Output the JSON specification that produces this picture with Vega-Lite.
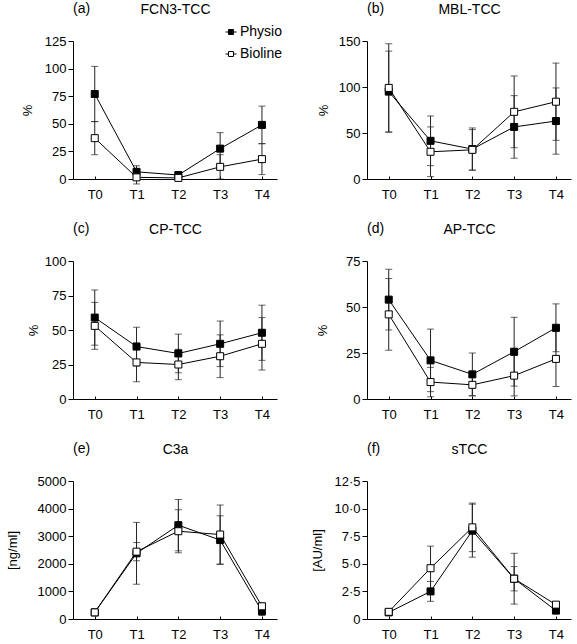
{
  "$schema": "https://vega.github.io/schema/vega-lite/v6.json",
  "padding": {"left": 6, "top": 2, "right": 2, "bottom": 2},
  "background": "white",
  "datasets": {
    "a": [
      {"time": 0, "group": "Physio", "mean": 77, "sd": 25},
      {"time": 1, "group": "Physio", "mean": 6.5, "sd": 5.5},
      {"time": 2, "group": "Physio", "mean": 3.6, "sd": 2},
      {"time": 3, "group": "Physio", "mean": 27.5, "sd": 14.5},
      {"time": 4, "group": "Physio", "mean": 49, "sd": 17},
      {"time": 0, "group": "Bioline", "mean": 37, "sd": 15},
      {"time": 1, "group": "Bioline", "mean": 1.5, "sd": 6},
      {"time": 2, "group": "Bioline", "mean": 1, "sd": 2},
      {"time": 3, "group": "Bioline", "mean": 11, "sd": 11},
      {"time": 4, "group": "Bioline", "mean": 18, "sd": 14}
    ],
    "b": [
      {"time": 0, "group": "Physio", "mean": 95, "sd": 44},
      {"time": 1, "group": "Physio", "mean": 41.5, "sd": 27},
      {"time": 2, "group": "Physio", "mean": 32.5, "sd": 23},
      {"time": 3, "group": "Physio", "mean": 56.6, "sd": 34},
      {"time": 4, "group": "Physio", "mean": 63, "sd": 36},
      {"time": 0, "group": "Bioline", "mean": 99, "sd": 48},
      {"time": 1, "group": "Bioline", "mean": 29.6, "sd": 27},
      {"time": 2, "group": "Bioline", "mean": 31.7, "sd": 22},
      {"time": 3, "group": "Bioline", "mean": 73, "sd": 39},
      {"time": 4, "group": "Bioline", "mean": 84, "sd": 42}
    ],
    "c": [
      {"time": 0, "group": "Physio", "mean": 59, "sd": 20},
      {"time": 1, "group": "Physio", "mean": 38, "sd": 14},
      {"time": 2, "group": "Physio", "mean": 33, "sd": 14},
      {"time": 3, "group": "Physio", "mean": 40, "sd": 16.5},
      {"time": 4, "group": "Physio", "mean": 48, "sd": 20},
      {"time": 0, "group": "Bioline", "mean": 53, "sd": 17},
      {"time": 1, "group": "Bioline", "mean": 26.5, "sd": 14},
      {"time": 2, "group": "Bioline", "mean": 25, "sd": 11},
      {"time": 3, "group": "Bioline", "mean": 31, "sd": 15.5},
      {"time": 4, "group": "Bioline", "mean": 40, "sd": 19}
    ],
    "d": [
      {"time": 0, "group": "Physio", "mean": 54, "sd": 16.5},
      {"time": 1, "group": "Physio", "mean": 21, "sd": 17},
      {"time": 2, "group": "Physio", "mean": 13.4, "sd": 11.6},
      {"time": 3, "group": "Physio", "mean": 25.7, "sd": 18.7},
      {"time": 4, "group": "Physio", "mean": 38.7, "sd": 13},
      {"time": 0, "group": "Bioline", "mean": 46, "sd": 19.5},
      {"time": 1, "group": "Bioline", "mean": 9.2, "sd": 8},
      {"time": 2, "group": "Bioline", "mean": 7.7, "sd": 6},
      {"time": 3, "group": "Bioline", "mean": 12.7, "sd": 11},
      {"time": 4, "group": "Bioline", "mean": 21.8, "sd": 15}
    ],
    "e": [
      {"time": 0, "group": "Physio", "mean": 240, "sd": 40},
      {"time": 1, "group": "Physio", "mean": 2380, "sd": 1120},
      {"time": 2, "group": "Physio", "mean": 3400, "sd": 930},
      {"time": 3, "group": "Physio", "mean": 2860, "sd": 880},
      {"time": 4, "group": "Physio", "mean": 280, "sd": 150},
      {"time": 0, "group": "Bioline", "mean": 240, "sd": 40},
      {"time": 1, "group": "Bioline", "mean": 2440, "sd": 330},
      {"time": 2, "group": "Bioline", "mean": 3180, "sd": 780},
      {"time": 3, "group": "Bioline", "mean": 3060, "sd": 1070},
      {"time": 4, "group": "Bioline", "mean": 460, "sd": 120}
    ],
    "f": [
      {"time": 0, "group": "Physio", "mean": 0.6, "sd": 0.1},
      {"time": 1, "group": "Physio", "mean": 2.5, "sd": 0.9},
      {"time": 2, "group": "Physio", "mean": 8.0, "sd": 2.4},
      {"time": 3, "group": "Physio", "mean": 3.65, "sd": 2.3},
      {"time": 4, "group": "Physio", "mean": 0.76, "sd": 0.2},
      {"time": 0, "group": "Bioline", "mean": 0.65, "sd": 0.1},
      {"time": 1, "group": "Bioline", "mean": 4.6, "sd": 2.0},
      {"time": 2, "group": "Bioline", "mean": 8.3, "sd": 2.2},
      {"time": 3, "group": "Bioline", "mean": 3.65, "sd": 1.1},
      {"time": 4, "group": "Bioline", "mean": 1.3, "sd": 0.2}
    ]
  },
  "concat": [
    {
      "title": {"text": "(a)"},
      "width": 204, "height": 138,
      "data": {"name": "a"},
      "encoding": {
        "x": {"field": "time", "type": "quantitative", "scale": {"domain": [-0.52, 4.36], "nice": false, "zero": false}, "axis": {"values": [0, 1, 2, 3, 4], "labelExpr": "'T' + datum.value", "title": null}},
        "y": {"field": "mean", "type": "quantitative", "scale": {"domain": [0, 125], "nice": false}, "axis": {"values": [0, 25, 50, 75, 100, 125], "title": "%", "titlePadding": 10}}
      },
      "layer": [
        {"mark": {"type": "errorbar", "ticks": {"size": 7}, "color": "#222", "thickness": 1}, "encoding": {"yError": {"field": "sd"}}},
        {"mark": {"type": "line", "color": "black", "strokeWidth": 1}, "encoding": {"x": {"field": "time", "type": "quantitative", "axis": null}, "detail": {"field": "group"}}},
        {"mark": {"type": "point", "shape": "square", "filled": true, "stroke": "black", "strokeWidth": 1, "size": 49, "opacity": 1},
         "encoding": {
           "x": {"field": "time", "type": "quantitative", "axis": {"orient": "top", "title": "FCN3-TCC", "labels": false, "ticks": false, "domain": false}},
           "fill": {"field": "group", "type": "nominal", "scale": {"domain": ["Physio", "Bioline"], "range": ["black", "white"]}, "legend": {"legendX": 151, "legendY": -16}}
         }}
      ],
      "resolve": {"axis": {"x": "independent"}}
    },
    {
      "title": {"text": "(b)"},
      "width": 204, "height": 138,
      "data": {"name": "b"},
      "encoding": {
        "x": {"field": "time", "type": "quantitative", "scale": {"domain": [-0.52, 4.36], "nice": false, "zero": false}, "axis": {"values": [0, 1, 2, 3, 4], "labelExpr": "'T' + datum.value", "title": null}},
        "y": {"field": "mean", "type": "quantitative", "scale": {"domain": [0, 150], "nice": false}, "axis": {"values": [0, 50, 100, 150], "title": "%", "titlePadding": 8}}
      },
      "layer": [
        {"mark": {"type": "errorbar", "ticks": {"size": 7}, "color": "#222", "thickness": 1}, "encoding": {"yError": {"field": "sd"}}},
        {"mark": {"type": "line", "color": "black", "strokeWidth": 1}, "encoding": {"x": {"field": "time", "type": "quantitative", "axis": null}, "detail": {"field": "group"}}},
        {"mark": {"type": "point", "shape": "square", "filled": true, "stroke": "black", "strokeWidth": 1, "size": 49, "opacity": 1},
         "encoding": {
           "x": {"field": "time", "type": "quantitative", "axis": {"orient": "top", "title": "MBL-TCC", "labels": false, "ticks": false, "domain": false}},
           "fill": {"field": "group", "type": "nominal", "scale": {"domain": ["Physio", "Bioline"], "range": ["black", "white"]}, "legend": {"legendX": 150, "legendY": -16}}
         }}
      ],
      "resolve": {"axis": {"x": "independent"}}
    },
    {
      "title": {"text": "(c)"},
      "width": 204, "height": 138,
      "data": {"name": "c"},
      "encoding": {
        "x": {"field": "time", "type": "quantitative", "scale": {"domain": [-0.52, 4.36], "nice": false, "zero": false}, "axis": {"values": [0, 1, 2, 3, 4], "labelExpr": "'T' + datum.value", "title": null}},
        "y": {"field": "mean", "type": "quantitative", "scale": {"domain": [0, 100], "nice": false}, "axis": {"values": [0, 25, 50, 75, 100], "title": "%", "titlePadding": 4}}
      },
      "layer": [
        {"mark": {"type": "errorbar", "ticks": {"size": 7}, "color": "#222", "thickness": 1}, "encoding": {"yError": {"field": "sd"}}},
        {"mark": {"type": "line", "color": "black", "strokeWidth": 1}, "encoding": {"x": {"field": "time", "type": "quantitative", "axis": null}, "detail": {"field": "group"}}},
        {"mark": {"type": "point", "shape": "square", "filled": true, "stroke": "black", "strokeWidth": 1, "size": 49, "opacity": 1},
         "encoding": {
           "x": {"field": "time", "type": "quantitative", "axis": {"orient": "top", "title": "CP-TCC", "labels": false, "ticks": false, "domain": false}},
           "fill": {"field": "group", "type": "nominal", "scale": {"domain": ["Physio", "Bioline"], "range": ["black", "white"]}, "legend": {"legendX": 151, "legendY": -6}}
         }}
      ],
      "resolve": {"axis": {"x": "independent"}}
    },
    {
      "title": {"text": "(d)"},
      "width": 204, "height": 138,
      "data": {"name": "d"},
      "encoding": {
        "x": {"field": "time", "type": "quantitative", "scale": {"domain": [-0.52, 4.36], "nice": false, "zero": false}, "axis": {"values": [0, 1, 2, 3, 4], "labelExpr": "'T' + datum.value", "title": null}},
        "y": {"field": "mean", "type": "quantitative", "scale": {"domain": [0, 75], "nice": false}, "axis": {"values": [0, 25, 50, 75], "title": "%", "titlePadding": 16}}
      },
      "layer": [
        {"mark": {"type": "errorbar", "ticks": {"size": 7}, "color": "#222", "thickness": 1}, "encoding": {"yError": {"field": "sd"}}},
        {"mark": {"type": "line", "color": "black", "strokeWidth": 1}, "encoding": {"x": {"field": "time", "type": "quantitative", "axis": null}, "detail": {"field": "group"}}},
        {"mark": {"type": "point", "shape": "square", "filled": true, "stroke": "black", "strokeWidth": 1, "size": 49, "opacity": 1},
         "encoding": {
           "x": {"field": "time", "type": "quantitative", "axis": {"orient": "top", "title": "AP-TCC", "labels": false, "ticks": false, "domain": false}},
           "fill": {"field": "group", "type": "nominal", "scale": {"domain": ["Physio", "Bioline"], "range": ["black", "white"]}, "legend": {"legendX": 150, "legendY": -6}}
         }}
      ],
      "resolve": {"axis": {"x": "independent"}}
    },
    {
      "title": {"text": "(e)"},
      "width": 204, "height": 138,
      "data": {"name": "e"},
      "encoding": {
        "x": {"field": "time", "type": "quantitative", "scale": {"domain": [-0.52, 4.36], "nice": false, "zero": false}, "axis": {"values": [0, 1, 2, 3, 4], "labelExpr": "'T' + datum.value", "title": null}},
        "y": {"field": "mean", "type": "quantitative", "scale": {"domain": [0, 5000], "nice": false}, "axis": {"values": [0, 1000, 2000, 3000, 4000, 5000], "format": "d", "title": "[ng/ml]", "titlePadding": 18}}
      },
      "layer": [
        {"mark": {"type": "errorbar", "ticks": {"size": 7}, "color": "#222", "thickness": 1}, "encoding": {"yError": {"field": "sd"}}},
        {"mark": {"type": "line", "color": "black", "strokeWidth": 1}, "encoding": {"x": {"field": "time", "type": "quantitative", "axis": null}, "detail": {"field": "group"}}},
        {"mark": {"type": "point", "shape": "square", "filled": true, "stroke": "black", "strokeWidth": 1, "size": 49, "opacity": 1},
         "encoding": {
           "x": {"field": "time", "type": "quantitative", "axis": {"orient": "top", "title": "C3a", "labels": false, "ticks": false, "domain": false}},
           "fill": {"field": "group", "type": "nominal", "scale": {"domain": ["Physio", "Bioline"], "range": ["black", "white"]}, "legend": {"legendX": 151, "legendY": -15}}
         }}
      ],
      "resolve": {"axis": {"x": "independent"}}
    },
    {
      "title": {"text": "(f)"},
      "width": 204, "height": 138,
      "data": {"name": "f"},
      "encoding": {
        "x": {"field": "time", "type": "quantitative", "scale": {"domain": [-0.52, 4.36], "nice": false, "zero": false}, "axis": {"values": [0, 1, 2, 3, 4], "labelExpr": "'T' + datum.value", "title": null}},
        "y": {"field": "mean", "type": "quantitative", "scale": {"domain": [0, 12.5], "nice": false}, "axis": {"values": [0, 2.5, 5, 7.5, 10, 12.5], "labelExpr": "datum.value == 0 ? '0' : replace(format(datum.value, '.1f'), '.', '·')", "title": "[AU/ml]", "titlePadding": 9}}
      },
      "layer": [
        {"mark": {"type": "errorbar", "ticks": {"size": 7}, "color": "#222", "thickness": 1}, "encoding": {"yError": {"field": "sd"}}},
        {"mark": {"type": "line", "color": "black", "strokeWidth": 1}, "encoding": {"x": {"field": "time", "type": "quantitative", "axis": null}, "detail": {"field": "group"}}},
        {"mark": {"type": "point", "shape": "square", "filled": true, "stroke": "black", "strokeWidth": 1, "size": 49, "opacity": 1},
         "encoding": {
           "x": {"field": "time", "type": "quantitative", "axis": {"orient": "top", "title": "sTCC", "labels": false, "ticks": false, "domain": false}},
           "fill": {"field": "group", "type": "nominal", "scale": {"domain": ["Physio", "Bioline"], "range": ["black", "white"]}, "legend": {"legendX": 150, "legendY": -13}}
         }}
      ],
      "resolve": {"axis": {"x": "independent"}}
    }
  ],
  "columns": 2,
  "bounds": "flush",
  "spacing": {"row": 82, "column": 90},
  "config": {
    "font": "Liberation Sans",
    "view": {"stroke": null},
    "axis": {"grid": false, "labelFontSize": 13, "titleFontSize": 13, "titleFontWeight": "normal", "labelColor": "black", "titleColor": "black", "domainColor": "black", "tickColor": "black", "labelFont": "Liberation Sans", "titleFont": "Liberation Sans"},
    "axisBottom": {"tickSize": -3, "labelPadding": 12},
    "axisLeft": {"tickSize": 5, "labelPadding": 2},
    "axisTop": {"titlePadding": 25, "titleFontSize": 14},
    "legend": {"orient": "none", "title": null, "symbolType": "M-1,0L-0.45,0M0.45,0L1,0M-0.45,-0.45L0.45,-0.45L0.45,0.45L-0.45,0.45Z", "symbolSize": 121, "symbolStrokeColor": "black", "symbolStrokeWidth": 1, "labelFontSize": 14, "labelFont": "Liberation Sans", "labelColor": "black", "rowPadding": 8, "labelOffset": 2},
    "title": {"fontSize": 14, "fontWeight": "normal", "font": "Liberation Sans", "anchor": "start", "frame": "group", "align": "center", "offset": -14, "color": "black"}
  }
}
